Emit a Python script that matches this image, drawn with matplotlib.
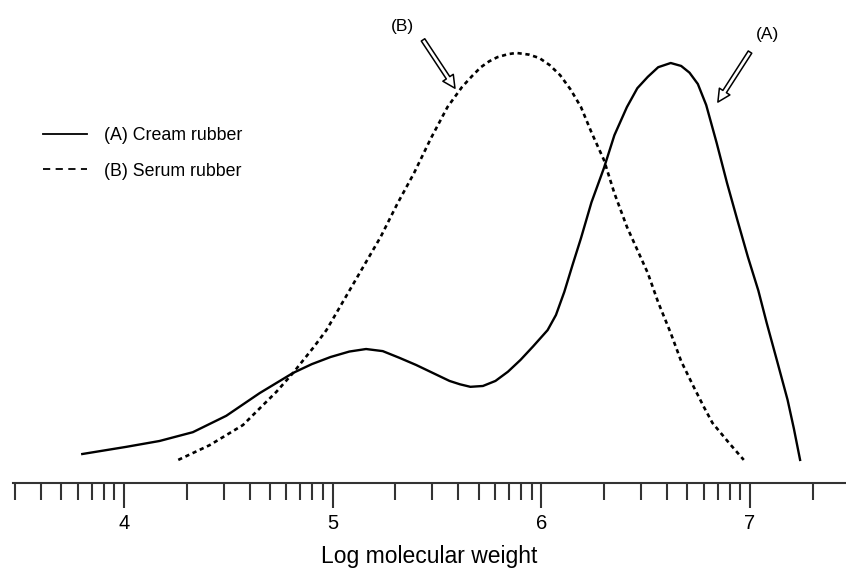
import numpy as np
import matplotlib.pyplot as plt
from matplotlib.lines import Line2D

plt.rcParams['font.family'] = ['Liberation Sans', 'DejaVu Sans']

# (A) Cream rubber (relative height, A peak = 1)
logm_a = [3.80, 4.01, 4.17, 4.33, 4.49, 4.65, 4.81, 4.90, 4.99, 5.08, 5.16,
          5.24, 5.32, 5.40, 5.48, 5.56, 5.61, 5.66, 5.72, 5.78, 5.84, 5.90,
          5.96, 6.03, 6.07, 6.11, 6.15, 6.19, 6.24, 6.30, 6.35, 6.41, 6.46,
          6.51, 6.56, 6.62, 6.67, 6.71, 6.75, 6.79, 6.84, 6.89, 6.94, 6.99,
          7.04, 7.08, 7.13, 7.18, 7.21, 7.24]
resp_a = [0.069, 0.086, 0.100, 0.121, 0.160, 0.214, 0.262, 0.283, 0.300, 0.313,
          0.319, 0.314, 0.298, 0.281, 0.262, 0.243, 0.235, 0.229, 0.231, 0.243,
          0.265, 0.293, 0.325, 0.364, 0.400, 0.455, 0.520, 0.583, 0.668, 0.750,
          0.828, 0.895, 0.940, 0.967, 0.990, 1.000, 0.993, 0.977, 0.950, 0.900,
          0.810, 0.714, 0.625, 0.538, 0.458, 0.381, 0.290, 0.198, 0.130, 0.055]

# (B) Serum rubber
logm_b = [4.26, 4.41, 4.57, 4.73, 4.81, 4.91, 4.97, 5.10, 5.23, 5.31, 5.39,
          5.47, 5.55, 5.62, 5.67, 5.71, 5.75, 5.79, 5.84, 5.88, 5.94, 5.99,
          6.04, 6.09, 6.14, 6.19, 6.24, 6.30, 6.35, 6.41, 6.46, 6.51, 6.56,
          6.62, 6.67, 6.73, 6.78, 6.82, 6.90, 6.97]
resp_b = [0.055, 0.090, 0.138, 0.217, 0.262, 0.324, 0.364, 0.475, 0.586, 0.665,
          0.738, 0.820, 0.895, 0.943, 0.970, 0.990, 1.004, 1.014, 1.021, 1.024,
          1.020, 1.012, 0.995, 0.971, 0.937, 0.895, 0.835, 0.769, 0.690, 0.610,
          0.555, 0.500, 0.430, 0.357, 0.290, 0.229, 0.180, 0.143, 0.095, 0.055]

major = [4, 5, 6, 7]

fig = plt.figure(figsize=(8.46, 5.72), dpi=100)
ax = fig.add_axes([13 / 846, 89 / 572, 833 / 846, 483 / 572])

ax.plot(logm_a, resp_a, color='black', lw=1.7, solid_joinstyle='round')
ax.plot(logm_b, resp_b, color='black', lw=1.9, ls=(0, (1.6, 1.4)))

# log-type minor ticks inside each decade
minor = [d + np.log10(k) for d in range(3, 8) for k in range(2, 10)]
minor = [m for m in minor if 3.46 <= m <= 7.46]
ax.set_xticks(major)
ax.set_xticks(minor, minor=True)
ax.set_xlim(3.468, 7.46)
ax.set_ylim(0, 1.15)
ax.set_xticklabels([str(m) for m in major], fontsize=14.5)
ax.tick_params(axis='x', which='major', length=18, width=1.5, pad=4, color='#333333')
ax.tick_params(axis='x', which='minor', length=12, width=1.5, color='#333333')
ax.set_yticks([])
for side in ['left', 'right', 'top']:
    ax.spines[side].set_visible(False)
ax.spines['bottom'].set_linewidth(1.5)
ax.spines['bottom'].set_color('#333333')
ax.set_xlabel('Log molecular weight', fontsize=16.5, labelpad=9)

# hollow arrows pointing at each curve
arrow = dict(arrowstyle='simple,head_length=0.9,head_width=0.9,tail_width=0.3',
             fc='white', ec='black', lw=1.1, shrinkA=0, shrinkB=0)
ax.annotate('', xy=(5.586, 0.940), xytext=(5.433, 1.055), arrowprops=arrow)
ax.annotate('', xy=(6.846, 0.907), xytext=(7.000, 1.026), arrowprops=arrow)
ax.text(5.332, 1.086, '(B)', fontsize=12.5, ha='center', va='center')
ax.text(7.086, 1.067, '(A)', fontsize=12.5, ha='center', va='center')

handles = [Line2D([], [], color='black', lw=1.3),
           Line2D([], [], color='black', lw=1.3, ls=(0, (4, 3)))]
fig.legend(handles, ['(A) Cream rubber', '(B) Serum rubber'], loc='upper left',
           bbox_to_anchor=(43 / 846, 1 - 127 / 572), frameon=False, fontsize=12.8,
           handlelength=2.45, handletextpad=1.0, labelspacing=1.05,
           borderpad=0, borderaxespad=0)

fig.savefig('out.png', dpi=100)
